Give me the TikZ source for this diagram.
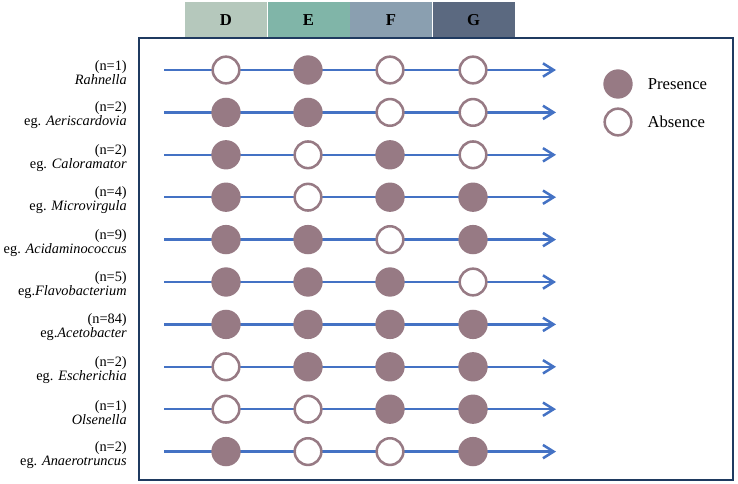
\documentclass[tikz,border=0pt]{standalone}
\usepackage{fontspec}
\setmainfont{Liberation Serif}
\usetikzlibrary{arrows.meta,positioning}
\definecolor{Frame}{HTML}{1F3A60}
\definecolor{Axis}{HTML}{4472C4}
\definecolor{Mauve}{HTML}{977A84}
\definecolor{HeadD}{HTML}{B5C8BC}
\definecolor{HeadE}{HTML}{80B5A8}
\definecolor{HeadF}{HTML}{8A9FB0}
\definecolor{HeadG}{HTML}{5B6980}
\tikzset{present/.style={circle,fill=Mauve,minimum size=22pt,inner sep=0pt},absent/.style={circle,draw=Mauve,fill=white,line width=1.9pt,minimum size=20pt,inner sep=0pt},track/.style={-{Straight Barb[length=8pt,width=10pt]},line width=1.9pt,draw=Axis},head/.style={minimum width=61.5pt,minimum height=26.5pt,inner sep=0pt,font=\fontsize{12.5}{14}\selectfont\bfseries},taxon/.style={align=right,anchor=east,inner sep=0pt,font=\fontsize{10.75}{10.5}\selectfont},key/.style={inner sep=0pt,font=\fontsize{12.5}{14}\selectfont}}
\begin{document}
\begin{tikzpicture}[x=0.75pt,y=-0.75pt]
      \useasboundingbox (0,0) rectangle (738,484);
      \node[head,fill=HeadD](hD) at (226,20){D};
      \node[head,fill=HeadE,right=0pt of hD](hE){E};
      \node[head,fill=HeadF,right=0pt of hE](hF){F};
      \node[head,fill=HeadG,right=0pt of hF](hG){G};
      \draw[Frame,line width=1.5pt](139,38) rectangle (733,480);
      \foreach \lab/\pd/\pe/\pf/\pg [count=\i] in {
        {(n=1)\\\textit{Rahnella}}/absent/present/absent/absent,
        {(n=2)\\eg. \textit{Aeriscardovia}}/present/present/absent/absent,
        {(n=2)\\eg. \textit{Caloramator}}/present/absent/present/absent,
        {(n=4)\\eg. \textit{Microvirgula}}/present/absent/present/present,
        {(n=9)\\eg. \textit{Acidaminococcus}}/present/present/absent/present,
        {(n=5)\\eg.\textit{Flavobacterium}}/present/present/present/absent,
        {(n=84)\\eg.\textit{Acetobacter}}/present/present/present/present,
        {(n=2)\\eg. \textit{Escherichia}}/absent/present/present/present,
        {(n=1)\\\textit{Olsenella}}/absent/absent/present/present,
        {(n=2)\\eg. \textit{Anaerotruncus}}/present/absent/absent/present}{
        \pgfmathsetmacro\yy{70+42.4*(\i-1)}
        \coordinate(from\i) at (164,\yy);
        \coordinate(to\i) at (556,\yy);
        \draw[track](from\i)--(to\i);
        \node[taxon](t\i) at (127,\yy+3){\lab};
        \node[\pd](d\i) at (226,\yy){};
        \node[\pe](e\i) at (308,\yy){};
        \node[\pf](f\i) at (390,\yy){};
        \node[\pg](g\i) at (473,\yy){};
      }
      \node[present](pres) at (618,84){};
      \node[absent](abs) at (618,122){};
      \node[key,right=11pt of pres](presLab){Presence};
      \node[key,right=11pt of abs](absLab){Absence};
    \end{tikzpicture}
\end{document}
